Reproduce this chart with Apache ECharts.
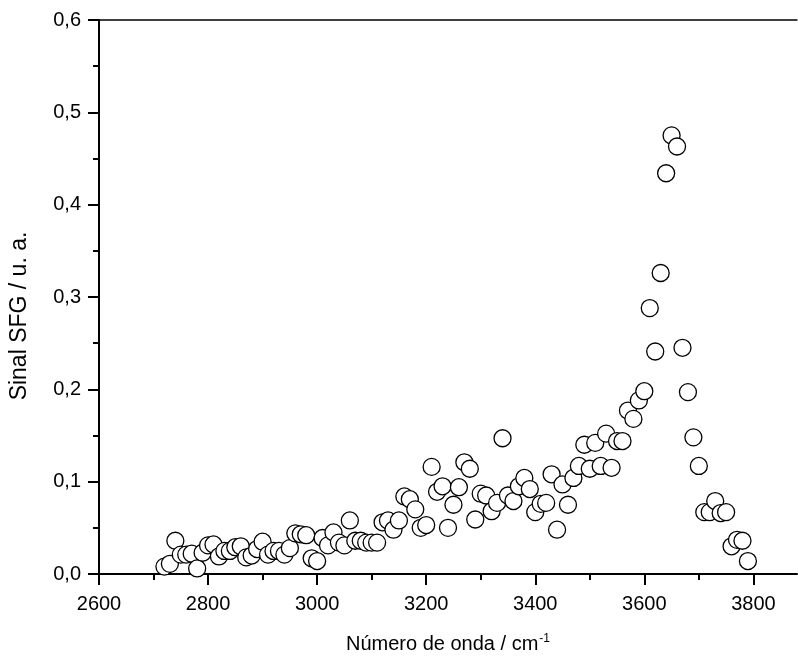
<!DOCTYPE html>
<html>
<head>
<meta charset="utf-8">
<script src="https://cdn.jsdelivr.net/npm/echarts@6/dist/echarts.min.js"></script>
<style>
html,body{margin:0;padding:0;background:#fff;}
#chart{width:798px;height:659px;}
</style>
</head>
<body>
<div id="chart"></div>
<script>
const wavenumber = [
  2720,2730,2740,2750,2760,2770,2780,2790,2800,2810,
  2820,2830,2840,2850,2860,2870,2880,2890,2900,2910,
  2920,2930,2940,2950,2960,2970,2980,2990,3000,3010,
  3020,3030,3040,3050,3060,3070,3080,3090,3100,3110,
  3120,3130,3140,3150,3160,3170,3180,3190,3200,3210,
  3220,3230,3240,3250,3260,3270,3280,3290,3300,3310,
  3320,3330,3340,3350,3360,3370,3380,3390,3400,3410,
  3420,3430,3440,3450,3460,3470,3480,3490,3500,3510,
  3520,3530,3540,3550,3560,3570,3580,3590,3600,3610,
  3620,3630,3640,3650,3660,3670,3680,3690,3700,3710,
  3720,3730,3740,3750,3760,3770,3780,3790
];
const sfgSignal = [
  0.008,0.011,0.036,0.021,0.021,0.022,0.006,0.023,0.031,0.032,
  0.019,0.025,0.025,0.029,0.030,0.018,0.020,0.027,0.035,0.021,
  0.025,0.025,0.021,0.028,0.044,0.043,0.042,0.017,0.014,0.039,
  0.031,0.045,0.034,0.031,0.058,0.036,0.036,0.034,0.034,0.034,
  0.056,0.058,0.048,0.058,0.084,0.081,0.070,0.050,0.053,0.116,
  0.089,0.095,0.050,0.075,0.094,0.121,0.114,0.059,0.087,0.085,
  0.068,0.077,0.147,0.085,0.079,0.095,0.104,0.092,0.067,0.076,
  0.077,0.108,0.048,0.097,0.075,0.104,0.117,0.140,0.114,0.142,
  0.117,0.152,0.115,0.144,0.144,0.177,0.168,0.188,0.198,0.288,
  0.241,0.326,0.434,0.475,0.463,0.245,0.197,0.148,0.117,0.067,
  0.067,0.079,0.066,0.067,0.030,0.037,0.036,0.014
];
const xMajorTicks = [2600,2800,3000,3200,3400,3600,3800];
const xMinorTicks = [2700,2900,3100,3300,3500,3700];
const yTickValues = [0,0.1,0.2,0.3,0.4,0.5,0.6];
const yTickLabels = ['0,0','0,1','0,2','0,3','0,4','0,5','0,6'];
const yTitle = 'Sinal SFG / u. a.';

const FONT = 'Liberation Sans, Arial, sans-serif';
const chart = echarts.init(document.getElementById('chart'), null, {renderer:'canvas'});
const points = wavenumber.map((x,i)=>[x, sfgSignal[i]]);
const axisCommon = {min:2600, max:3880};
chart.setOption({
  animation:false,
  backgroundColor:'#fff',
  grid:{left:99, top:20, right:1, bottom:84, containLabel:false},
  graphic:[{
    type:'text', x:8, y:316, rotation:Math.PI/2,
    style:{text:yTitle, fill:'#000', font:'23px Liberation Sans, Arial, sans-serif', align:'center', verticalAlign:'top'}
  }],
  xAxis:[
    Object.assign({}, axisCommon, {
      type:'value', position:'bottom', interval:200,
      axisLine:{show:true, lineStyle:{color:'#000', width:2}},
      axisTick:{show:true, inside:false, length:11, lineStyle:{color:'#000', width:2}, customValues:xMajorTicks},
      axisLabel:{show:true, margin:20, color:'#000', fontFamily:FONT, fontSize:20, customValues:xMajorTicks,
        formatter:v=>String(v)},
      splitLine:{show:false},
      name:'{a|Número de onda / cm}{s|-1}', nameLocation:'middle', nameGap:59,
      nameTextStyle:{color:'#000', fontFamily:FONT, fontSize:20,
        rich:{a:{fontFamily:FONT, fontSize:20, color:'#000'}, s:{fontFamily:FONT, fontSize:12, color:'#000', verticalAlign:'top', padding:[0,0,10,1]}}}
    }),
    Object.assign({}, axisCommon, {
      type:'value', position:'bottom', interval:200,
      axisLine:{show:false},
      axisTick:{show:true, inside:false, length:6, lineStyle:{color:'#000', width:2}, customValues:xMinorTicks},
      axisLabel:{show:false}, splitLine:{show:false}
    }),
    Object.assign({}, axisCommon, {
      type:'value', position:'top', interval:200,
      axisLine:{show:true, lineStyle:{color:'#000', width:1.5}},
      axisTick:{show:false}, axisLabel:{show:false}, splitLine:{show:false}
    })
  ],
  yAxis:{
    type:'value', min:0, max:0.6, interval:0.1,
    axisLine:{show:true, lineStyle:{color:'#000', width:2}},
    axisTick:{show:true, inside:false, length:11, lineStyle:{color:'#000', width:2}},
    minorTick:{show:true, splitNumber:2, length:6, lineStyle:{color:'#000', width:2}},
    axisLabel:{show:true, margin:18, color:'#000', fontFamily:FONT, fontSize:20,
      formatter:v=>{const i=yTickValues.findIndex(t=>Math.abs(t-v)<1e-9); return i>=0?yTickLabels[i]:'';}},
    splitLine:{show:false}, minorSplitLine:{show:false}
  },
  series:[{
    type:'scatter', xAxisIndex:0, yAxisIndex:0, data:points,
    symbol:'circle', symbolSize:17,
    itemStyle:{color:'#fff', borderColor:'#000', borderWidth:1.3, opacity:1},
    emphasis:{disabled:true}
  }]
});
</script>
</body>
</html>
